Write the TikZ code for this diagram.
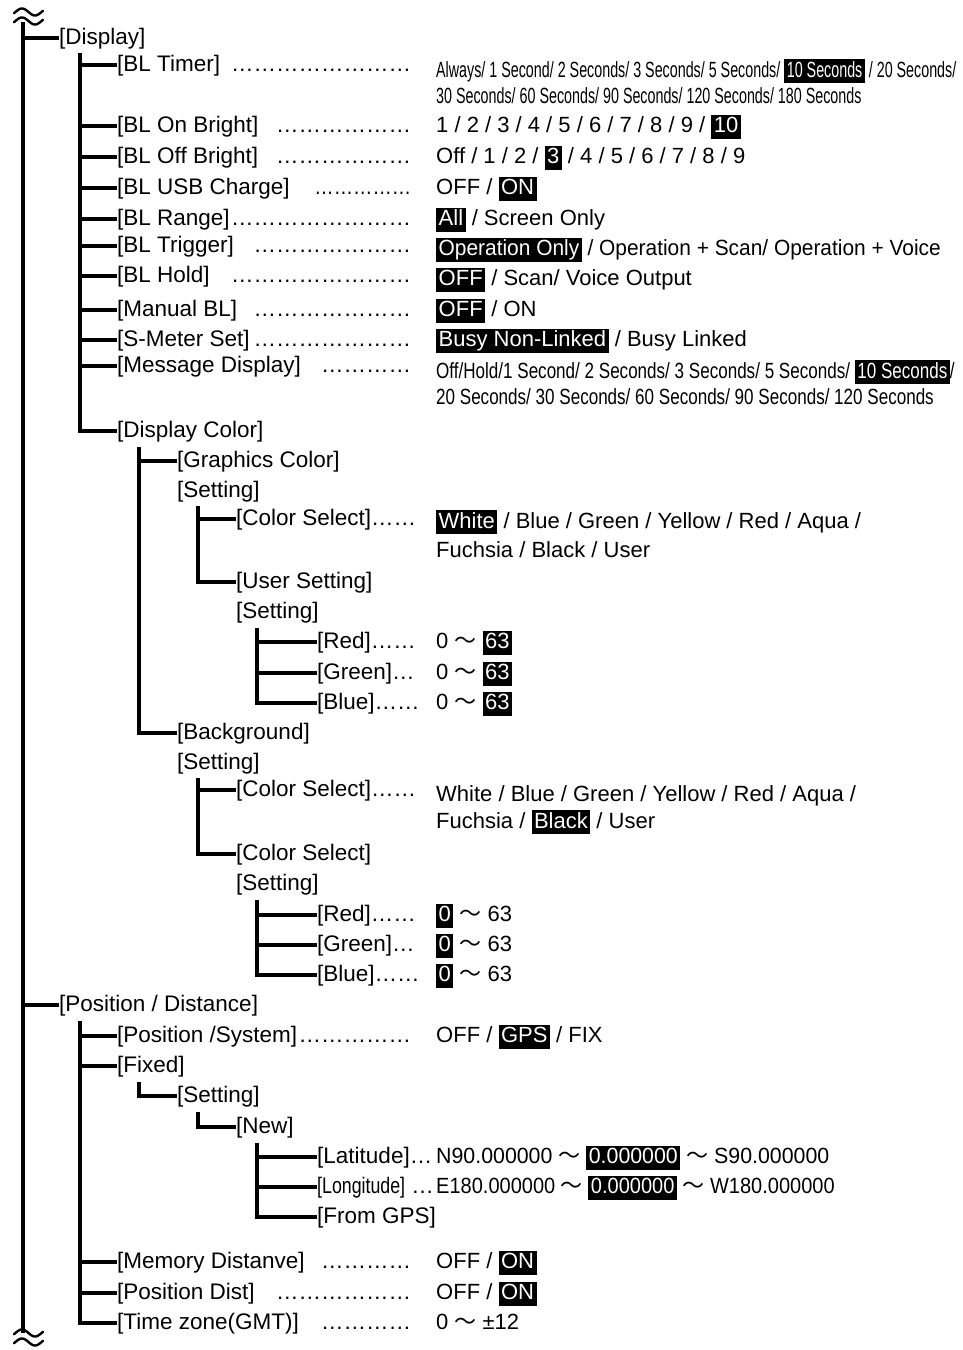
\documentclass[tikz,border=0pt]{standalone}
\usepackage{fontspec}
\setmainfont{Liberation Sans}
\newfontfamily\cjkfont{Noto Sans CJK JP}
\newfontfamily\narrowA[FakeStretch=0.65]{Liberation Sans}
\newfontfamily\narrowB[FakeStretch=0.775]{Liberation Sans}
\newfontfamily\narrowC[FakeStretch=0.79]{Liberation Sans}
\newfontfamily\narrowD[FakeStretch=0.95]{Liberation Sans}
\newfontfamily\narrowE[FakeStretch=0.97]{Liberation Sans}
\newfontfamily\narrowF[FakeStretch=0.91]{Liberation Sans}
\newfontfamily\narrowG[FakeStretch=0.86]{Liberation Sans}
\newcommand{\hl}[1]{{\setlength{\fboxsep}{0pt}\colorbox{black}{\color{white}\rule[-6pt]{0pt}{24pt}\kern2.5pt#1\kern2.5pt}}}
\newcommand{\wavy}{{\cjkfont ～}}
\newcommand{\lbl}[2]{\makebox[294pt][l]{#1\hfill\foreach \k in {1,...,#2}{…}}}

\begin{document}
\begin{tikzpicture}[x=1pt,y=-1pt,font=\fontsize{22}{26}\selectfont,
  lb/.style={anchor=west,inner sep=0pt,text height=17pt,text depth=4pt,font=\fontsize{22.5}{26}\selectfont},
  vl/.style={anchor=west,inner sep=0pt,text height=17pt,text depth=4pt},
  vm/.style={anchor=base west,inner sep=0pt},
  br/.style={line width=3.2pt},
  wave/.style={line width=2.4pt,line cap=round}]
\useasboundingbox (0,0) rectangle (962,1350);
% --- break marks and main trunk ---
\foreach \yy in {12,21,1333,1342}{\draw[wave] plot[domain=-20:380,samples=40] ({14+29*(\x+20)/400},{\yy-3.5*sin(\x)});}
\coordinate (t0) at (23,22);
\coordinate (t0e) at (23,1333);
\draw[br] (t0) -- (t0e);
\node[lb] (dsp) at (59,38) {[Display]};
\node[lb] (pos) at (59,1005) {[Position / Distance]};
\foreach \n in {dsp,pos}{\draw[br] (t0 |- \n.west) -- (\n.west);}
% --- display ---
\node[lb] (bltimer) at (117,65)  {\lbl{[BL Timer]}{8}};
\node[lb] (blon)    at (117,126) {\lbl{[BL On Bright]}{6}};
\node[lb] (bloff)   at (117,157) {\lbl{[BL Off Bright]}{6}};
\node[lb] (blusb)   at (117,188) {\makebox[294pt][l]{[BL USB Charge]\hfill{\narrowG……………}}};
\node[lb] (blrange) at (117,219) {\lbl{[BL Range]}{8}};
\node[lb] (bltrig)  at (117,246) {\lbl{[BL Trigger]}{7}};
\node[lb] (blhold)  at (117,276) {\lbl{[BL Hold]}{8}};
\node[lb] (manbl)   at (117,310) {\lbl{[Manual BL]}{7}};
\node[lb] (smeter)  at (117,340) {\lbl{[S-Meter Set]}{7}};
\node[lb] (msgdisp) at (117,366) {\lbl{[Message Display]}{4}};
\node[lb] (dispcol) at (117,431) {[Display Color]};
\coordinate (t1a) at (80,53);
\foreach \n in {bltimer,blon,bloff,blusb,blrange,bltrig,blhold,manbl,smeter,msgdisp}{\draw[br] (t1a |- \n.west) -- (\n.west);}
\draw[br] (t1a) -- (t1a |- dispcol.west) -- (dispcol.west);
\node[vm] (bltimer-v) at (436,77) {\narrowA\begin{tabular}[t]{@{}l@{}}Always/ 1 Second/ 2 Seconds/ 3 Seconds/ 5 Seconds/ \hl{10 Seconds} / 20 Seconds/\\30 Seconds/ 60 Seconds/ 90 Seconds/ 120 Seconds/ 180 Seconds\end{tabular}};
\node[vl] (blon-v)    at (436,126) {1 / 2 / 3 / 4 / 5 / 6 / 7 / 8 / 9 / \hl{10}};
\node[vl] (bloff-v)   at (436,157) {Off / 1 / 2 / \hl{3} / 4 / 5 / 6 / 7 / 8 / 9};
\node[vl] (blusb-v)   at (436,188) {OFF / \hl{ON}};
\node[vl] (blrange-v) at (436,219) {\hl{All} / Screen Only};
\node[vl] (bltrig-v)  at (436,249) {\narrowD\hl{Operation Only} / Operation + Scan/ Operation + Voice};
\node[vl] (blhold-v)  at (436,279) {\hl{OFF} / Scan/ Voice Output};
\node[vl] (manbl-v)   at (436,310) {\hl{OFF} / ON};
\node[vl] (smeter-v)  at (436,340) {\hl{Busy Non-Linked} / Busy Linked};
\node[vm] (msgdisp-v) at (436,378) {\narrowB\begin{tabular}[t]{@{}l@{}}Off/Hold/1 Second/ 2 Seconds/ 3 Seconds/ 5 Seconds/ \hl{10 Seconds}/\\20 Seconds/ 30 Seconds/ 60 Seconds/ 90 Seconds/ 120 Seconds\end{tabular}};
% --- display color ---
\node[lb] (gfx)  at (177,461) {[Graphics Color]};
\node[lb] (set1) at (177,491) {[Setting]};
\node[lb] (bg)   at (177,733) {[Background]};
\node[lb] (set3) at (177,763) {[Setting]};
\coordinate (t2a) at (139,447);
\draw[br] (t2a |- gfx.west) -- (gfx.west);
\draw[br] (t2a) -- (t2a |- bg.west) -- (bg.west);
\node[lb] (csel1) at (236,519) {[Color Select]……};
\node[lb] (usr)   at (236,582) {[User Setting]};
\node[lb] (set2)  at (236,612) {[Setting]};
\coordinate (t3a) at (198,506);
\draw[br] (t3a |- csel1.west) -- (csel1.west);
\draw[br] (t3a) -- (t3a |- usr.west) -- (usr.west);
\node[vm] (csel1-v) at (436,528) {\begin{tabular}[t]{@{}l@{}}\hl{White} / Blue / Green / Yellow / Red / Aqua /\\[3pt]Fuchsia / Black / User\end{tabular}};
\node[lb] (red1) at (317,642) {[Red]……};
\node[lb] (grn1) at (317,673) {[Green]…};
\node[lb] (blu1) at (317,703) {[Blue]……};
\coordinate (t4a) at (257,628);
\foreach \n in {red1,grn1}{\draw[br] (t4a |- \n.west) -- (\n.west);}
\draw[br] (t4a) -- (t4a |- blu1.west) -- (blu1.west);
\foreach \n/\yy in {red1/642,grn1/673,blu1/703}{\node[vl] (\n-v) at (436,\yy) {0 \wavy{} \hl{63}};}
\node[lb] (csel2) at (236,790) {[Color Select]……};
\node[lb] (csel3) at (236,854) {[Color Select]};
\node[lb] (set4)  at (236,884) {[Setting]};
\coordinate (t3b) at (198,778);
\draw[br] (t3b |- csel2.west) -- (csel2.west);
\draw[br] (t3b) -- (t3b |- csel3.west) -- (csel3.west);
\node[vm] (csel2-v) at (436,801) {\begin{tabular}[t]{@{}l@{}}White / Blue / Green / Yellow / Red / Aqua /\\[1pt]Fuchsia / \hl{Black} / User\end{tabular}};
\node[lb] (red2) at (317,915) {[Red]……};
\node[lb] (grn2) at (317,945) {[Green]…};
\node[lb] (blu2) at (317,975) {[Blue]……};
\coordinate (t4b) at (257,900);
\foreach \n in {red2,grn2}{\draw[br] (t4b |- \n.west) -- (\n.west);}
\draw[br] (t4b) -- (t4b |- blu2.west) -- (blu2.west);
\foreach \n/\yy in {red2/915,grn2/945,blu2/975}{\node[vl] (\n-v) at (436,\yy) {\hl{0} \wavy{} 63};}
% --- position / distance ---
\node[lb] (possys) at (117,1036) {\lbl{[Position /System]}{5}};
\node[lb] (fix)    at (117,1066) {[Fixed]};
\node[lb] (memd)   at (117,1262) {\lbl{[Memory Distanve]}{4}};
\node[lb] (posd)   at (117,1293) {\lbl{[Position Dist]}{6}};
\node[lb] (tz)     at (117,1323) {\lbl{[Time zone(GMT)]}{4}};
\coordinate (t1b) at (80,1021);
\foreach \n in {possys,fix,memd,posd}{\draw[br] (t1b |- \n.west) -- (\n.west);}
\draw[br] (t1b) -- (t1b |- tz.west) -- (tz.west);
\node[vl] (possys-v) at (436,1036) {OFF / \hl{GPS} / FIX};
\node[lb] (set5) at (177,1096) {[Setting]};
\coordinate (t2b) at (139,1082);
\draw[br] (t2b) -- (t2b |- set5.west) -- (set5.west);
\node[lb] (new) at (236,1127) {[New]};
\coordinate (t3c) at (198,1112);
\draw[br] (t3c) -- (t3c |- new.west) -- (new.west);
\node[lb] (lat) at (317,1157) {[Latitude]…};
\node[lb] (lon) at (317,1187) {{\narrowC[Longitude]} …};
\node[lb] (gps) at (317,1217) {[From GPS]};
\coordinate (t4c) at (257,1143);
\foreach \n in {lat,lon}{\draw[br] (t4c |- \n.west) -- (\n.west);}
\draw[br] (t4c) -- (t4c |- gps.west) -- (gps.west);
\node[vl] (lat-v) at (436,1157) {\narrowE N90.000000 \wavy{} \hl{0.000000} \wavy{} S90.000000};
\node[vl] (lon-v) at (436,1187) {\narrowF E180.000000 \wavy{} \hl{0.000000} \wavy{} W180.000000};
\node[vl] (memd-v) at (436,1262) {OFF / \hl{ON}};
\node[vl] (posd-v) at (436,1293) {OFF / \hl{ON}};
\node[vl] (tz-v)   at (436,1323) {0 \wavy{} ±12};
\end{tikzpicture}
\end{document}
